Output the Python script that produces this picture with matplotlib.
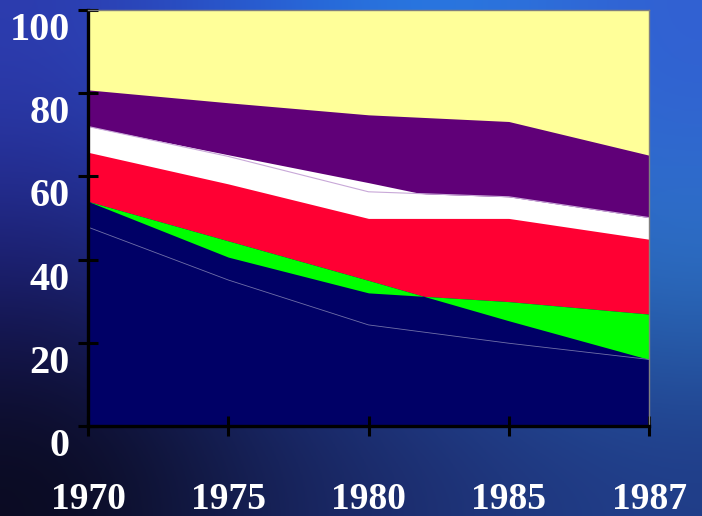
import numpy as np
import matplotlib
matplotlib.use('Agg')
from matplotlib import pyplot as plt
from matplotlib.transforms import ScaledTranslation

# category labels
years = ['1970', '1975', '1980', '1985', '1987']

# boundary lines of the layers (percent)
yellow_top = [100, 100, 100, 100, 100]
purple_top = [80.8, 77.7, 74.8, 73.2, 65.1]
white_top_a = [72.0, 65.2, 58.5, 51.5, 45.0]
white_top_b = [72.0, 64.8, 56.3, 55.1, 50.1]
red_top = [65.8, 58.2, 49.9, 49.9, 44.9]
green_edge_a = [54.0, 44.5, 35.0, 25.3, 16.0]
green_edge_b = [54.0, 40.6, 32.0, 29.9, 26.9]
inner_line = [47.8, 35.1, 24.3, 19.9, 16.0]
y_ticks = [0, 20, 40, 60, 80, 100]

fig = plt.figure(figsize=(7.02, 5.16), dpi=100)

# blue backdrop
bg = fig.add_axes([0, 0, 1, 1])
bg_colors = np.array([
    [[45, 60, 175], [40, 95, 215], [40, 130, 230], [50, 95, 210]],
    [[28, 30, 115], [30, 55, 155], [35, 85, 180], [45, 120, 200]],
    [[10, 10, 30], [22, 32, 85], [30, 48, 115], [32, 60, 135]],
]) / 255.0
bg.imshow(bg_colors, aspect='auto', interpolation='bicubic', extent=[0, 1, 0, 1])
bg.set_axis_off()

ax = fig.add_axes([88 / 702, 90 / 516, 561 / 702, 416 / 516])
x = np.arange(len(years))

# layers drawn back to front
ax.fill_between(x, 0, yellow_top, color='#FFFF99', lw=0)
ax.fill_between(x, 0, purple_top, color='#600078', lw=0)
ax.fill_between(x, 0, white_top_a, color='white', lw=0)
ax.fill_between(x, 0, white_top_b, color='white', lw=0)
ax.plot(x, white_top_b, color='#C8A8D8', lw=0.8)
ax.fill_between(x, 0, red_top, color='#FF0033', lw=0)
ax.fill_between(x, 0, green_edge_a, color='#000066', lw=0)
ax.fill_between(x, 0, green_edge_b, color='#000066', lw=0)
ax.fill_between(x, green_edge_a, green_edge_b, color='#00FF00', lw=0, interpolate=True)
ax.plot(x, inner_line, color='#7070A8', lw=0.6)

ax.set_xlim(0, len(years) - 1)
ax.set_ylim(0, 100)
ax.set_xticks(x)
ax.set_xticklabels(years)
ax.set_yticks(y_ticks)
ax.set_yticklabels([str(v) for v in y_ticks])

for side in ['left', 'bottom']:
    ax.spines[side].set_color('black')
    ax.spines[side].set_linewidth(2.4)
for side in ['top', 'right']:
    ax.spines[side].set_color('#808080')
    ax.spines[side].set_linewidth(1.0)

ax.tick_params(axis='both', direction='inout', length=14.4, width=2.2, color='black')
ax.tick_params(axis='x', pad=33)
ax.tick_params(axis='y', pad=6)

for lab in ax.get_xticklabels():
    lab.set_fontfamily('Liberation Serif')
    lab.set_fontweight('bold')
    lab.set_fontsize(27)
    lab.set_color('white')
for lab in ax.get_yticklabels():
    lab.set_fontfamily('Liberation Serif')
    lab.set_fontweight('bold')
    lab.set_fontsize(29)
    lab.set_color('white')
    lab.set_transform(lab.get_transform() + ScaledTranslation(0, -0.16, fig.dpi_scale_trans))

fig.savefig('out.png', dpi=100)
